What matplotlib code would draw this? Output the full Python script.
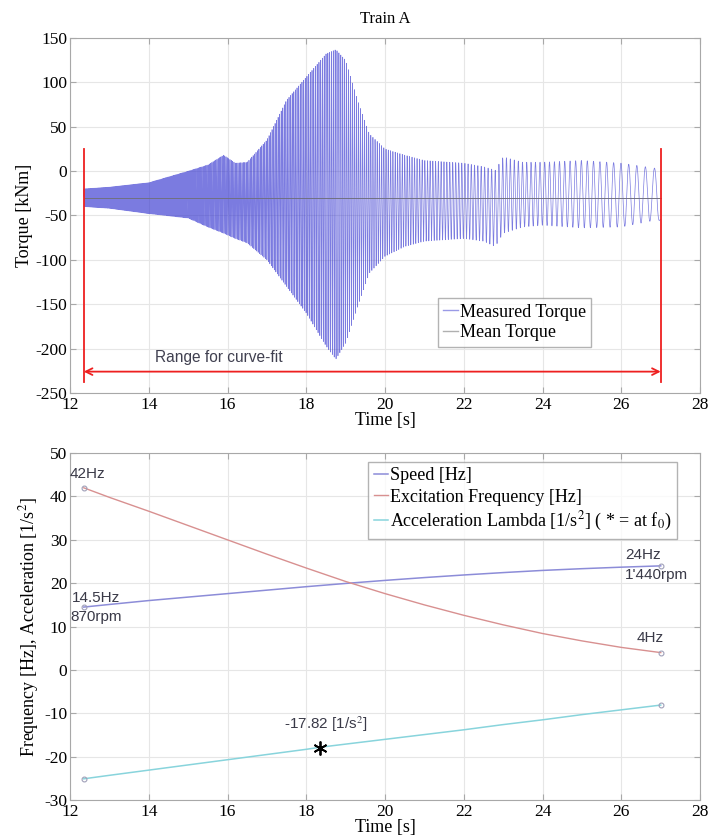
import numpy as np
import matplotlib
matplotlib.use('Agg')
import matplotlib.pyplot as plt

# envelope of measured torque [s], [kNm]
env_t  = [12.35, 13.0, 14.0, 15.0, 15.5, 15.9, 16.2, 16.5, 17.0, 17.5, 18.0, 18.5, 18.75, 19.0, 19.3, 19.6, 20.0, 20.5, 21.0, 22.0, 22.5, 22.8, 23.0, 23.5, 24.0, 25.0, 26.0, 26.9, 27.0]
env_hi = [-20, -18, -13, 0, 7, 18, 9, 10, 35, 80, 106, 132, 137, 125, 80, 42, 25, 18, 12, 9, 5, 1, 16, 10, 10, 12, 9, 3, -50]
env_lo = [-40, -42, -48, -53, -63, -70, -76, -81, -100, -130, -160, -197, -212, -194, -153, -115, -96, -85, -79, -76, -79, -85, -70, -63, -61, -64, -63, -55, -56]
mean_torque = -30

# bottom plot curves
t_curve = [12.35, 13, 14, 15, 16, 17, 18, 19, 20, 21, 22, 23, 24, 25, 26, 27]
speed   = [14.5, 15.1, 16.0, 16.8, 17.6, 18.4, 19.2, 19.95, 20.65, 21.3, 21.9, 22.45, 22.95, 23.35, 23.7, 24.0]
excit   = [42.0, 39.8, 36.6, 33.3, 30.0, 26.7, 23.5, 20.4, 17.6, 15.0, 12.6, 10.4, 8.4, 6.7, 5.2, 4.0]
t_acc   = [12.35, 13, 14, 15, 16, 17, 18, 18.35, 19, 20, 21, 22, 23, 24, 25, 26, 27]
accel   = [-25.1, -24.3, -23.1, -21.9, -20.7, -19.5, -18.3, -17.82, -17.1, -16.0, -14.9, -13.8, -12.6, -11.5, -10.3, -9.2, -8.1]
t_star, a_star = 18.35, -17.82

t_start, t_end = 12.35, 27.0

plt.rcParams['font.family'] = ['Liberation Serif', 'DejaVu Serif']
plt.rcParams['font.size'] = 12
plt.rcParams['mathtext.fontset'] = 'stix'
plt.rcParams['axes.unicode_minus'] = False

fig = plt.figure(figsize=(7.12, 8.36), dpi=100)
ax1 = fig.add_axes([0.0983, 0.530, 0.885, 0.4245])
ax2 = fig.add_axes([0.0983, 0.043, 0.885, 0.415])

def style(ax):
    ax.grid(True, color='#e6e6e6', lw=0.8)
    ax.set_axisbelow(True)
    for s in ax.spines.values():
        s.set_color('#a8a8a8')
    ax.tick_params(direction='in', length=4, color='#a8a8a8', top=True, right=True, labelsize=12.5, pad=2)
    ax.tick_params(axis='x', pad=3)
    ax.set_xlim(12, 28)
    ax.set_xticks(range(12, 29, 2))

# ---- top: torque signal ----
t = np.linspace(t_start, t_end, 24000)
f = np.interp(t, t_curve, excit)
phase = 2 * np.pi * np.cumsum(f) * (t[1] - t[0])
hi = np.interp(t, env_t, env_hi)
lo = np.interp(t, env_t, env_lo)
sig = (hi + lo) / 2 + (hi - lo) / 2 * np.sin(phase)

ax1.plot(t, sig, color='#3535d0', lw=0.5, alpha=0.65)
ax1.plot([t_start, t_end], [mean_torque, mean_torque], color='#707080', lw=0.7)
# legend proxies
ax1.plot([], [], color='#9a9ae6', lw=1, label='Measured Torque')
ax1.plot([], [], color='#b0b0b0', lw=1, label='Mean Torque')

ax1.plot([t_start, t_start], [-238, 25], color='#ee2020', lw=1.3)
ax1.plot([t_end, t_end], [-238, 25], color='#ee2020', lw=1.3)
ax1.annotate('', xy=(t_start, -226), xytext=(t_end, -226),
             arrowprops=dict(arrowstyle='<->', color='#ee2020', lw=1.3, shrinkA=0, shrinkB=0))
ax1.text(14.15, -210, 'Range for curve-fit', family='Liberation Sans', fontsize=11.2,
         color='#404050', va='center')

style(ax1)
ax1.set_ylim(-250, 150)
ax1.set_yticks(range(-250, 151, 50))
ax1.set_title('Train A', fontsize=12, pad=11)
ax1.set_xlabel('Time [s]', fontsize=13, labelpad=-1)
ax1.set_ylabel('Torque [kNm]', fontsize=13, labelpad=2)
leg = ax1.legend(loc='lower left', bbox_to_anchor=(0.584, 0.13), fontsize=13, fancybox=False,
                 handlelength=0.8, handletextpad=0.1, borderpad=0.3, labelspacing=0.2, borderaxespad=0)
leg.get_frame().set_edgecolor('#a0a0a0')
leg.get_frame().set_linewidth(1.0)

# ---- bottom: frequencies ----
ax2.plot(t_curve, speed, color='#8c8cd8', lw=1.1, label='Speed [Hz]')
ax2.plot(t_curve, excit, color='#d89090', lw=1.0, label='Excitation Frequency [Hz]')
ax2.plot(t_acc, accel, color='#88d4dc', lw=1.1, label='Acceleration Lambda [1/s$^2$] ( * = at f$_0$)')
for tv, yv in [(t_curve, speed), (t_curve, excit), (t_acc, accel)]:
    ax2.plot([tv[0], tv[-1]], [yv[0], yv[-1]], ls='none', marker='o', ms=3.5,
             mfc='none', mec='#a0a0b8', mew=0.8)
ax2.plot(t_star, a_star - 0.2, marker=(6, 2, 0), ms=10, color='black', mew=1.3, ls='none')

tc = '#3a3a48'
kw = dict(family='Liberation Sans', fontsize=11, color=tc, va='center')
ax2.text(12.0, 45.2, '42Hz', **kw)
ax2.text(12.05, 16.6, '14.5Hz', **kw)
ax2.text(12.0, 12.3, '870rpm', **kw)
ax2.text(26.1, 26.4, '24Hz', **kw)
ax2.text(26.1, 22.0, "1'440rpm", **kw)
ax2.text(26.4, 7.3, '4Hz', **kw)
ax2.text(17.43, -12.6, '-17.82 [1/s$^2$]', **kw)

style(ax2)
ax2.set_ylim(-30, 50)
ax2.set_yticks(range(-30, 51, 10))
ax2.set_xlabel('Time [s]', fontsize=13, labelpad=-1)
ax2.set_ylabel('Frequency [Hz], Acceleration [1/s$^2$]', fontsize=13, labelpad=2)
leg2 = ax2.legend(loc='upper right', bbox_to_anchor=(0.963, 0.975), fontsize=13, fancybox=False,
                  handlelength=0.8, handletextpad=0.1, borderpad=0.3, labelspacing=0.25, borderaxespad=0)
leg2.get_frame().set_edgecolor('#a0a0a0')
leg2.get_frame().set_linewidth(1.0)

fig.savefig('out.png', dpi=100)
